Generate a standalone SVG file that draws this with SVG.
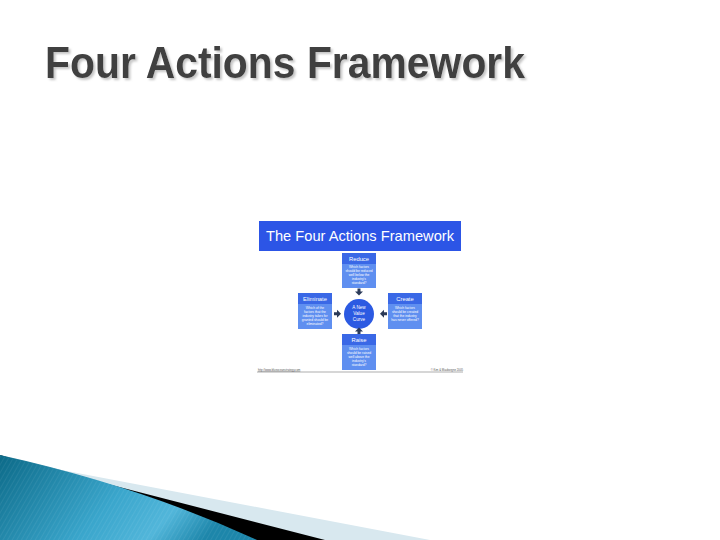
<svg xmlns="http://www.w3.org/2000/svg" width="720" height="540" viewBox="0 0 720 540">
  <defs>
    <linearGradient id="swoosh" x1="0" y1="0" x2="1" y2="0.3">
      <stop offset="0" stop-color="#0c6a88"/>
      <stop offset="0.55" stop-color="#3aa6cc"/>
      <stop offset="0.8" stop-color="#52b6da"/>
      <stop offset="1" stop-color="#1d86aa"/>
    </linearGradient>
    <pattern id="hatch" width="4" height="4" patternUnits="userSpaceOnUse" patternTransform="rotate(30)">
      <line x1="0" y1="0" x2="0" y2="4" stroke="#ffffff" stroke-opacity="0.12" stroke-width="1"/>
    </pattern>
    <filter id="shadow" x="-5%" y="-20%" width="110%" height="140%">
      <feDropShadow dx="2" dy="2" stdDeviation="0.8" flood-color="#bfbfbf" flood-opacity="0.9"/>
    </filter>
  </defs>
  <style>
    .slide-title { font-family: "Liberation Sans", Arial, sans-serif; font-size: 44px; font-weight: bold; fill: #404040; }
    .banner { fill: #2c55e6; }
    .banner-text { font-family: "Liberation Sans", Arial, sans-serif; font-size: 14.5px; fill: #ffffff; }
    .head { fill: #3a68e6; }
    .body { fill: #5f8ff0; }
    .head-text { font-family: "Liberation Sans", Arial, sans-serif; font-size: 5.8px; fill: #ffffff; text-anchor: middle; }
    .body-text { font-family: "Liberation Sans", Arial, sans-serif; font-size: 3.3px; fill: #ffffff; text-anchor: middle; }
    .circle { fill: #2c5ae2; }
    .circle-text { font-family: "Liberation Sans", Arial, sans-serif; font-size: 4.6px; fill: #ffffff; text-anchor: middle; }
    .arrow { fill: #2b3a58; }
    .foot { font-family: "Liberation Sans", Arial, sans-serif; font-size: 2.8px; fill: #555555; }
  </style>

  <rect width="720" height="540" fill="#ffffff"/>

  <!-- slide title -->
  <text class="slide-title" x="45" y="78" textLength="480" lengthAdjust="spacingAndGlyphs" filter="url(#shadow)">Four Actions Framework</text>

  <!-- bottom decoration -->
  <g id="swoosh-deco">
    <path d="M0,455 L30,464 L430,540 L0,540 Z" fill="#d8e8ef"/>
    <path d="M0,455 L30,464 L325,540 L0,540 Z" fill="#000000"/>
    <path d="M0,455 Q140,486 257,540 L0,540 Z" fill="url(#swoosh)"/>
    <path d="M0,455 Q140,486 257,540 L0,540 Z" fill="url(#hatch)"/>
  </g>

  <!-- inner framework picture -->
  <g id="banner">
    <rect class="banner" x="259" y="221" width="202" height="30"/>
    <text class="banner-text" x="266" y="241" textLength="188" lengthAdjust="spacingAndGlyphs">The Four Actions Framework</text>
  </g>

  <g id="reduce">
    <rect class="body" x="342" y="253" width="34" height="35"/>
    <rect class="head" x="342" y="253" width="34" height="11"/>
    <text class="head-text" x="359" y="261">Reduce</text>
    <text class="body-text" x="359" y="268">Which factors</text>
    <text class="body-text" x="359" y="272">should be reduced</text>
    <text class="body-text" x="359" y="276">well below the</text>
    <text class="body-text" x="359" y="280">industry's</text>
    <text class="body-text" x="359" y="284">standard?</text>
  </g>

  <g id="eliminate">
    <rect class="body" x="298" y="293" width="34" height="36"/>
    <rect class="head" x="298" y="293" width="34" height="11"/>
    <text class="head-text" x="315" y="301">Eliminate</text>
    <text class="body-text" x="315" y="309">Which of the</text>
    <text class="body-text" x="315" y="313">factors that the</text>
    <text class="body-text" x="315" y="317">industry takes for</text>
    <text class="body-text" x="315" y="321">granted should be</text>
    <text class="body-text" x="315" y="325">eliminated?</text>
  </g>

  <g id="create">
    <rect class="body" x="388" y="293" width="34" height="36"/>
    <rect class="head" x="388" y="293" width="34" height="11"/>
    <text class="head-text" x="405" y="301">Create</text>
    <text class="body-text" x="405" y="309">Which factors</text>
    <text class="body-text" x="405" y="313">should be created</text>
    <text class="body-text" x="405" y="317">that the industry</text>
    <text class="body-text" x="405" y="321">has never offered?</text>
  </g>

  <g id="raise">
    <rect class="body" x="342" y="334" width="34" height="36"/>
    <rect class="head" x="342" y="334" width="34" height="11"/>
    <text class="head-text" x="359" y="342">Raise</text>
    <text class="body-text" x="359" y="350">Which factors</text>
    <text class="body-text" x="359" y="354">should be raised</text>
    <text class="body-text" x="359" y="358">well above the</text>
    <text class="body-text" x="359" y="362">industry's</text>
    <text class="body-text" x="359" y="366">standard?</text>
  </g>

  <g id="value-curve">
    <circle class="circle" cx="359" cy="314" r="15"/>
    <text class="circle-text" x="359" y="309">A New</text>
    <text class="circle-text" x="359" y="315">Value</text>
    <text class="circle-text" x="359" y="321">Curve</text>
  </g>

  <g id="connectors">
    <polygon class="arrow" points="357.5,288.5 360.5,288.5 360.5,291.5 363,291.5 359,295.5 355,291.5 357.5,291.5"/>
    <polygon class="arrow" points="334,312.3 337,312.3 337,309.8 341,313.8 337,317.8 337,315.3 334,315.3"/>
    <polygon class="arrow" points="387,312.3 384,312.3 384,309.8 380,313.8 384,317.8 384,315.3 387,315.3"/>
    <polygon class="arrow" points="357.5,334 360.5,334 360.5,331.5 363,331.5 359,327.5 355,331.5 357.5,331.5"/>
  </g>

  <g id="footer">
    <line x1="257" y1="372" x2="463" y2="372" stroke="#8a8a8a" stroke-width="0.7"/>
    <text class="foot" x="258" y="370.5" text-decoration="underline">http://www.blueoceanstrategy.com</text>
    <text class="foot" x="463" y="370.5" text-anchor="end">© Kim &amp; Mauborgne 2005</text>
  </g>
</svg>
